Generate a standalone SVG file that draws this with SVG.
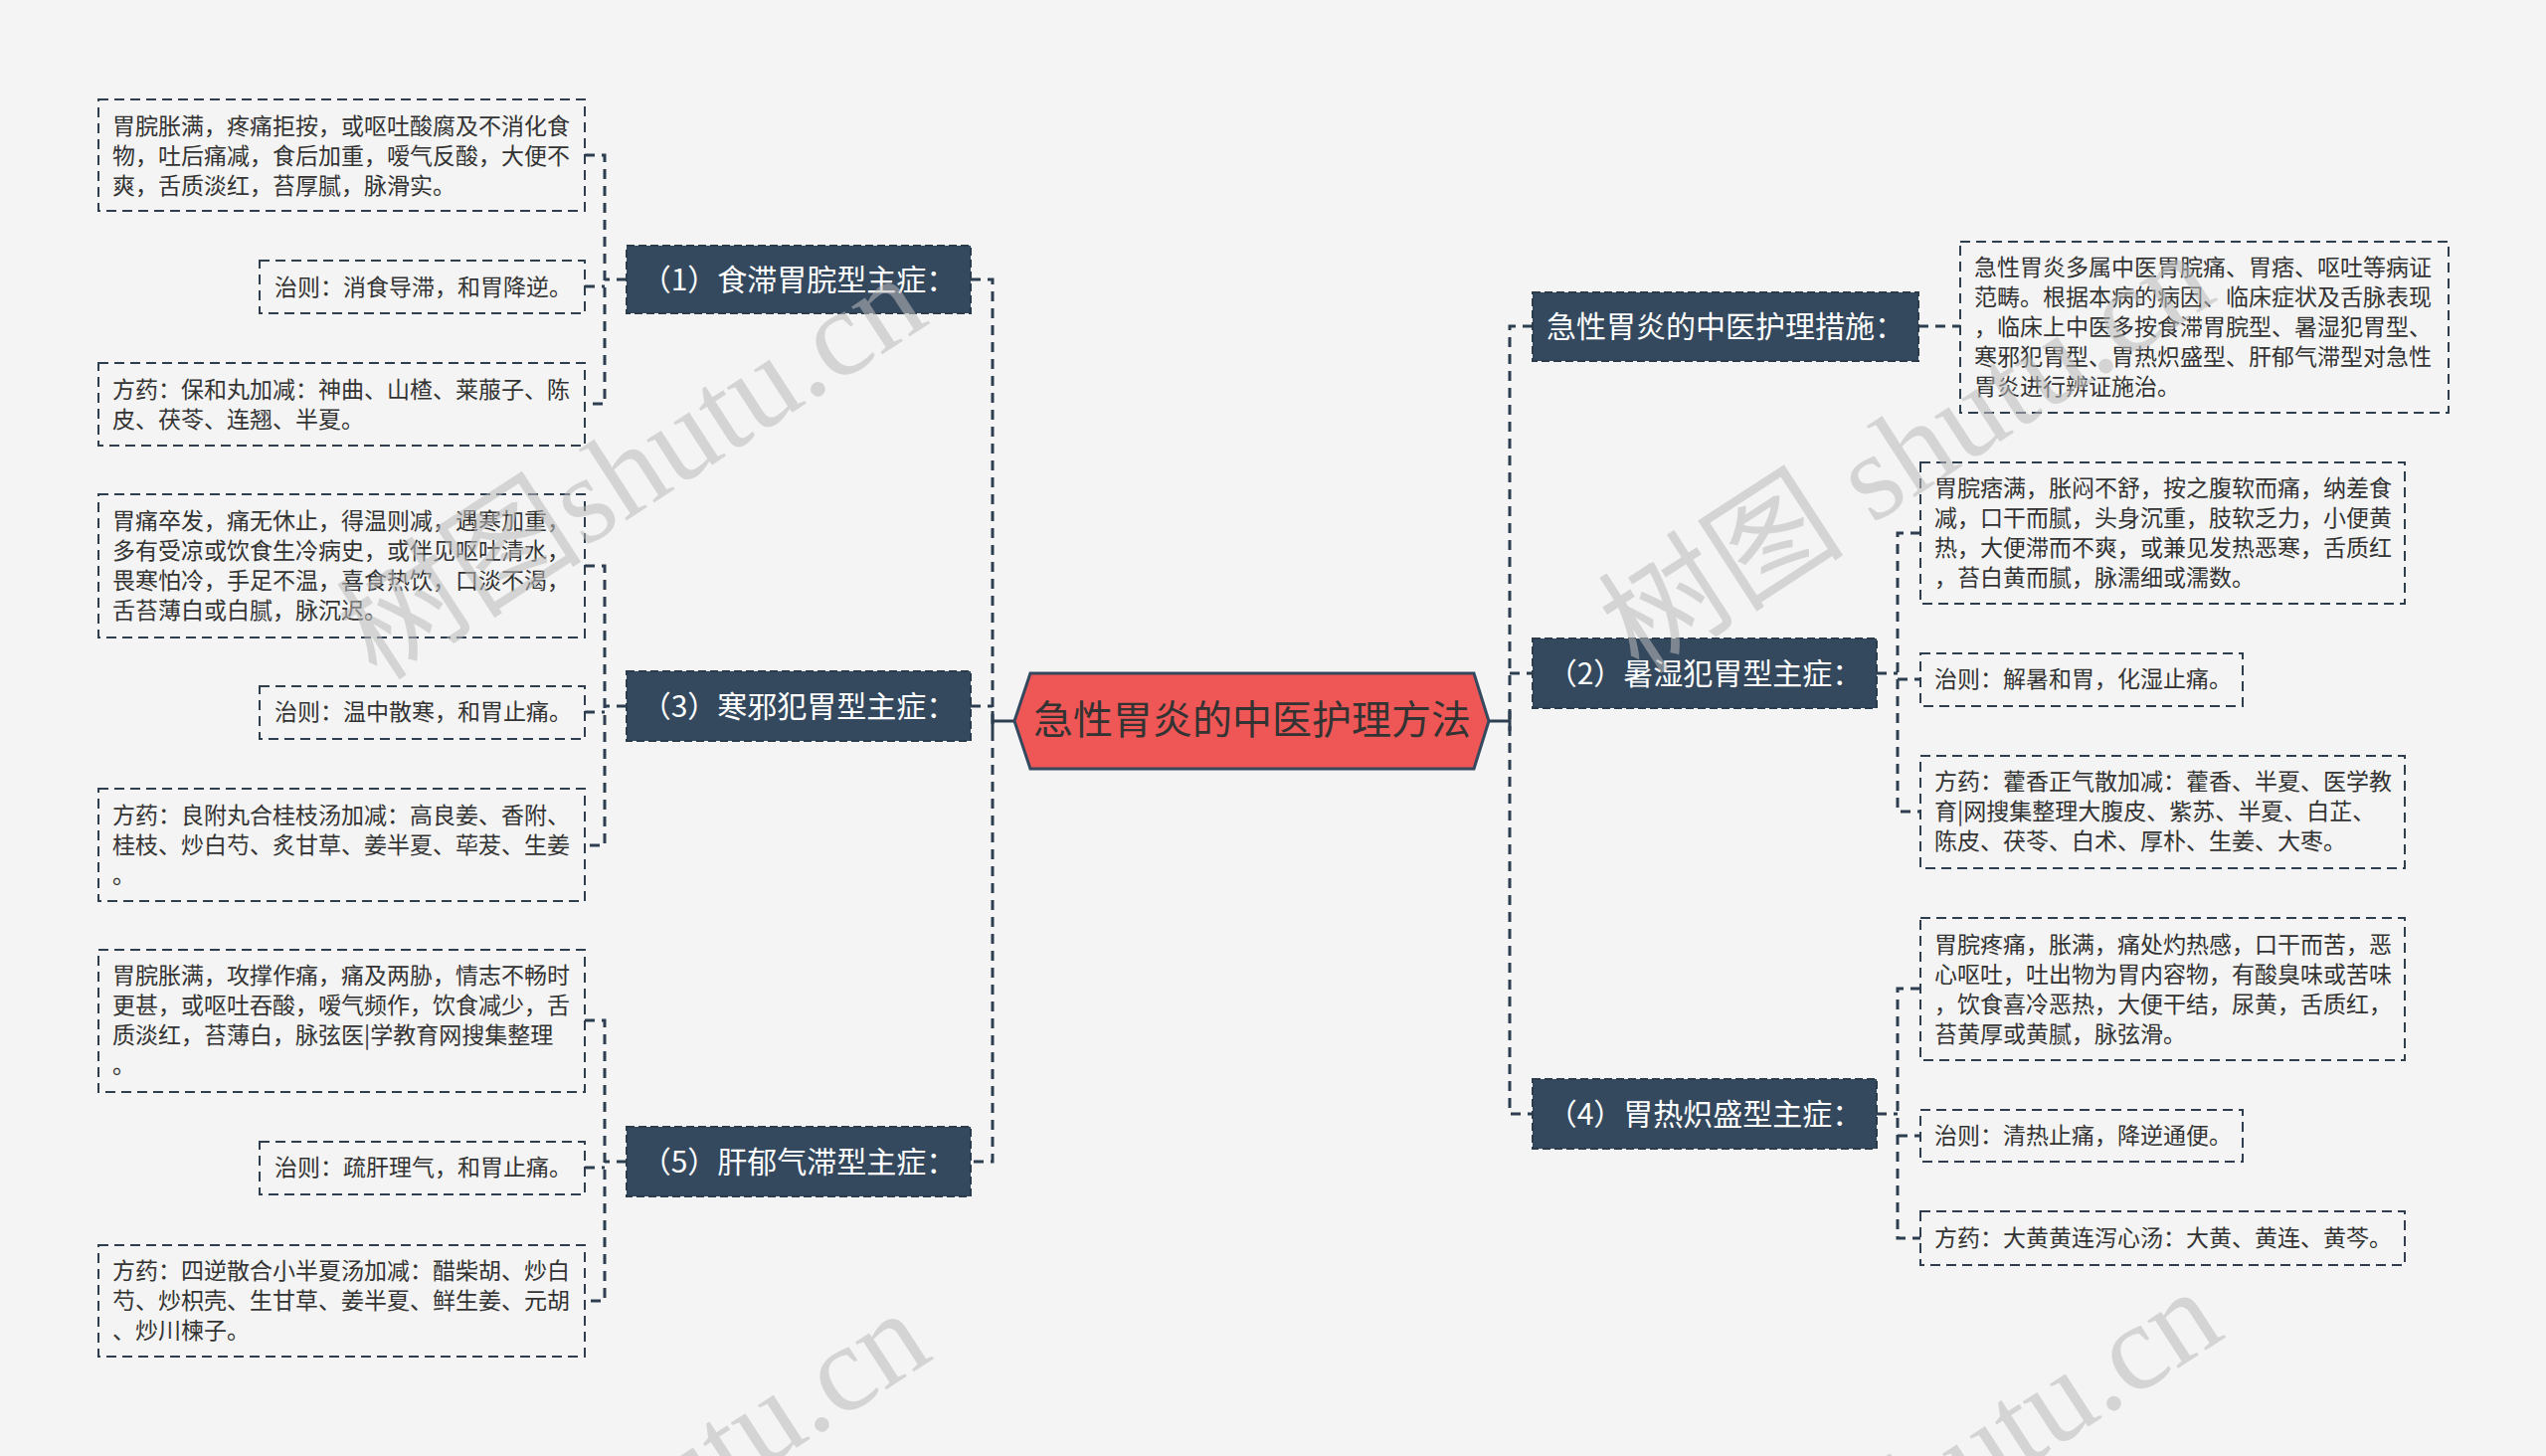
<svg xmlns="http://www.w3.org/2000/svg" width="2560" height="1464" viewBox="0 0 2560 1464">
<style>
.bg{fill:#f4f4f4}
.box{fill:none;stroke:#2f3e4e;stroke-width:2;stroke-dasharray:10 6}
.node{fill:#34495e;stroke:#2a3b4c;stroke-width:2;stroke-dasharray:8 4}
.ntxt{font-family:"Noto Sans CJK SC","Noto Sans",sans-serif;font-size:30px;fill:#ffffff;text-anchor:middle}
.txt{font-family:"Noto Sans CJK SC","Noto Sans",sans-serif;font-size:23px;fill:#333333}
.con{fill:none;stroke:#2c3e50;stroke-width:3;stroke-dasharray:10 7}
.solid{fill:none;stroke:#2c3e50;stroke-width:3}
.wm{font-family:"Liberation Serif","Noto Sans CJK SC",serif;font-size:124px;fill:#bbbbbb;opacity:0.55;text-anchor:middle}
</style>
<rect class="bg" x="0" y="0" width="2560" height="1464"/>

<g id="connectors">
  <path class="con" d="M976,281 H998 V1168 H976"/>
  <path class="con" d="M976,710 H998"/>
  <path class="solid" d="M998,725 H1020 M998,715 V735"/>
  <path class="con" d="M1541,328 H1518 V1120 H1541"/>
  <path class="con" d="M1518,677 H1541"/>
  <path class="solid" d="M1497,725 H1518 M1518,715 V735"/>
  <path class="con" d="M630,281 H608 M588,156 H608 V406 H588 M588,288 H608"/>
  <path class="con" d="M630,710 H608 M588,569 H608 V850 H588 M588,716 H608"/>
  <path class="con" d="M630,1168 H608 M588,1026 H608 V1308 H588 M588,1174 H608"/>
  <path class="con" d="M1929,328 H1971"/>
  <path class="con" d="M1887,677 H1908 M1931,536 H1908 V816 H1931 M1908,683 H1931"/>
  <path class="con" d="M1887,1120 H1908 M1931,994 H1908 V1245 H1931 M1908,1142 H1931"/>
</g>

<g id="center">
  <polygon points="1020,725 1036,677 1482,677 1497,725 1482,773 1036,773" fill="#ef5656" stroke="#34495e" stroke-width="3"/>
  <text x="1259" y="738" font-family="'Noto Sans CJK SC','Noto Sans',sans-serif" font-size="40" fill="#333333" text-anchor="middle">急性胃炎的中医护理方法</text>
</g>

<g id="node1">
  <rect class="node" x="630" y="247" width="346" height="68"/>
  <text class="ntxt" x="803" y="292">（1）食滞胃脘型主症：</text>
</g>
<g id="node1-symptom">
  <rect class="box" x="99" y="100" width="489" height="112"/>
  <text class="txt"><tspan x="113" y="135">胃脘胀满，疼痛拒按，或呕吐酸腐及不消化食</tspan><tspan x="113" y="165">物，吐后痛减，食后加重，嗳气反酸，大便不</tspan><tspan x="113" y="195">爽，舌质淡红，苔厚腻，脉滑实。</tspan></text>
</g>
<g id="node1-rule">
  <rect class="box" x="261" y="262" width="327" height="53"/>
  <text class="txt" x="276" y="297">治则：消食导滞，和胃降逆。</text>
</g>
<g id="node1-formula">
  <rect class="box" x="99" y="365" width="489" height="83"/>
  <text class="txt"><tspan x="113" y="400">方药：保和丸加减：神曲、山楂、莱菔子、陈</tspan><tspan x="113" y="430">皮、茯苓、连翘、半夏。</tspan></text>
</g>

<g id="node3">
  <rect class="node" x="630" y="675" width="346" height="70"/>
  <text class="ntxt" x="803" y="721">（3）寒邪犯胃型主症：</text>
</g>
<g id="node3-symptom">
  <rect class="box" x="99" y="497" width="489" height="144"/>
  <text class="txt"><tspan x="113" y="532">胃痛卒发，痛无休止，得温则减，遇寒加重，</tspan><tspan x="113" y="562">多有受凉或饮食生冷病史，或伴见呕吐清水，</tspan><tspan x="113" y="592">畏寒怕冷，手足不温，喜食热饮，口淡不渴，</tspan><tspan x="113" y="622">舌苔薄白或白腻，脉沉迟。</tspan></text>
</g>
<g id="node3-rule">
  <rect class="box" x="261" y="690" width="327" height="53"/>
  <text class="txt" x="276" y="724">治则：温中散寒，和胃止痛。</text>
</g>
<g id="node3-formula">
  <rect class="box" x="99" y="793" width="489" height="113"/>
  <text class="txt"><tspan x="113" y="828">方药：良附丸合桂枝汤加减：高良姜、香附、</tspan><tspan x="113" y="858">桂枝、炒白芍、炙甘草、姜半夏、荜茇、生姜</tspan><tspan x="113" y="888">。</tspan></text>
</g>

<g id="node5">
  <rect class="node" x="630" y="1133" width="346" height="70"/>
  <text class="ntxt" x="803" y="1179">（5）肝郁气滞型主症：</text>
</g>
<g id="node5-symptom">
  <rect class="box" x="99" y="955" width="489" height="143"/>
  <text class="txt"><tspan x="113" y="989">胃脘胀满，攻撑作痛，痛及两胁，情志不畅时</tspan><tspan x="113" y="1019">更甚，或呕吐吞酸，嗳气频作，饮食减少，舌</tspan><tspan x="113" y="1049">质淡红，苔薄白，脉弦医|学教育网搜集整理</tspan><tspan x="113" y="1079">。</tspan></text>
</g>
<g id="node5-rule">
  <rect class="box" x="261" y="1148" width="327" height="53"/>
  <text class="txt" x="276" y="1182">治则：疏肝理气，和胃止痛。</text>
</g>
<g id="node5-formula">
  <rect class="box" x="99" y="1252" width="489" height="112"/>
  <text class="txt"><tspan x="113" y="1286">方药：四逆散合小半夏汤加减：醋柴胡、炒白</tspan><tspan x="113" y="1316">芍、炒枳壳、生甘草、姜半夏、鲜生姜、元胡</tspan><tspan x="113" y="1346">、炒川楝子。</tspan></text>
</g>

<g id="nodeR1">
  <rect class="node" x="1541" y="294" width="388" height="69"/>
  <text class="ntxt" x="1735" y="339">急性胃炎的中医护理措施：</text>
</g>
<g id="nodeR1-desc">
  <rect class="box" x="1971" y="243" width="491" height="172"/>
  <text class="txt"><tspan x="1985" y="277">急性胃炎多属中医胃脘痛、胃痞、呕吐等病证</tspan><tspan x="1985" y="307">范畴。根据本病的病因、临床症状及舌脉表现</tspan><tspan x="1985" y="337">，临床上中医多按食滞胃脘型、暑湿犯胃型、</tspan><tspan x="1985" y="367">寒邪犯胃型、胃热炽盛型、肝郁气滞型对急性</tspan><tspan x="1985" y="397">胃炎进行辨证施治。</tspan></text>
</g>

<g id="nodeR2">
  <rect class="node" x="1541" y="642" width="346" height="70"/>
  <text class="ntxt" x="1714" y="688">（2）暑湿犯胃型主症：</text>
</g>
<g id="nodeR2-symptom">
  <rect class="box" x="1931" y="465" width="487" height="142"/>
  <text class="txt"><tspan x="1945" y="499">胃脘痞满，胀闷不舒，按之腹软而痛，纳差食</tspan><tspan x="1945" y="529">减，口干而腻，头身沉重，肢软乏力，小便黄</tspan><tspan x="1945" y="559">热，大便滞而不爽，或兼见发热恶寒，舌质红</tspan><tspan x="1945" y="589">，苔白黄而腻，脉濡细或濡数。</tspan></text>
</g>
<g id="nodeR2-rule">
  <rect class="box" x="1931" y="657" width="324" height="53"/>
  <text class="txt" x="1945" y="691">治则：解暑和胃，化湿止痛。</text>
</g>
<g id="nodeR2-formula">
  <rect class="box" x="1931" y="760" width="487" height="113"/>
  <text class="txt"><tspan x="1945" y="794">方药：藿香正气散加减：藿香、半夏、医学教</tspan><tspan x="1945" y="824">育|网搜集整理大腹皮、紫苏、半夏、白芷、</tspan><tspan x="1945" y="854">陈皮、茯苓、白术、厚朴、生姜、大枣。</tspan></text>
</g>

<g id="nodeR4">
  <rect class="node" x="1541" y="1085" width="346" height="70"/>
  <text class="ntxt" x="1714" y="1131">（4）胃热炽盛型主症：</text>
</g>
<g id="nodeR4-symptom">
  <rect class="box" x="1931" y="923" width="487" height="143"/>
  <text class="txt"><tspan x="1945" y="958">胃脘疼痛，胀满，痛处灼热感，口干而苦，恶</tspan><tspan x="1945" y="988">心呕吐，吐出物为胃内容物，有酸臭味或苦味</tspan><tspan x="1945" y="1018">，饮食喜冷恶热，大便干结，尿黄，舌质红，</tspan><tspan x="1945" y="1048">苔黄厚或黄腻，脉弦滑。</tspan></text>
</g>
<g id="nodeR4-rule">
  <rect class="box" x="1931" y="1116" width="324" height="52"/>
  <text class="txt" x="1945" y="1150">治则：清热止痛，降逆通便。</text>
</g>
<g id="nodeR4-formula">
  <rect class="box" x="1931" y="1218" width="487" height="54"/>
  <text class="txt" x="1945" y="1253">方药：大黄黄连泻心汤：大黄、黄连、黄芩。</text>
</g>

<g id="watermarks">
  <text class="wm" transform="translate(658,505) rotate(-33)">树图shutu.cn</text>
  <text class="wm" transform="translate(1940,490) rotate(-33)">树图 shutu.cn</text>
  <text class="wm" transform="translate(662,1546) rotate(-33)">树图shutu.cn</text>
  <text class="wm" transform="translate(1948,1533) rotate(-33)">树图 shutu.cn</text>
</g>
</svg>
